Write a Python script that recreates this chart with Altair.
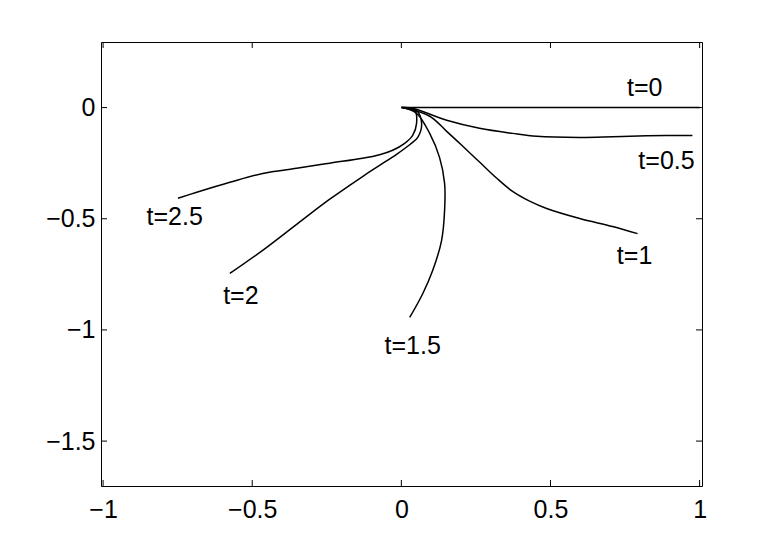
import altair as alt
import pandas as pd

# --- curve data ---
t0_x = [0.0, 1.0]
t0_y = [0.0, 0.0]

t05_x = [0.004, 0.038, 0.152, 0.262, 0.373, 0.454, 0.598, 0.708, 0.822, 0.976]
t05_y = [0.0, -0.003, -0.057, -0.093, -0.116, -0.129, -0.134, -0.131, -0.127, -0.125]

t1_x = [0.004, 0.095, 0.152, 0.206, 0.263, 0.320, 0.373, 0.430, 0.487, 0.598, 0.708, 0.792]
t1_y = [0.0, -0.039, -0.107, -0.174, -0.246, -0.318, -0.377, -0.421, -0.454, -0.499, -0.535, -0.567]

t15_x = [0.004, 0.051, 0.095, 0.128, 0.145, 0.145, 0.135, 0.105, 0.072, 0.028]
t15_y = [0.0, -0.026, -0.116, -0.224, -0.341, -0.462, -0.597, -0.733, -0.836, -0.944]

t2_x = [0.0, 0.051, 0.068, 0.055, 0.029, -0.016, -0.073, -0.130, -0.240, -0.351, -0.465, -0.575]
t2_y = [0.0, -0.013, -0.071, -0.134, -0.166, -0.210, -0.260, -0.310, -0.412, -0.525, -0.642, -0.746]

t25_x = [0.0, 0.045, 0.051, 0.038, 0.011, -0.029, -0.073, -0.130, -0.240, -0.351, -0.465, -0.575, -0.686, -0.749]
t25_y = [0.0, -0.013, -0.071, -0.125, -0.161, -0.192, -0.212, -0.228, -0.250, -0.273, -0.296, -0.336, -0.381, -0.408]

# --- annotation labels ---
label_text = ["t=0", "t=0.5", "t=1", "t=1.5", "t=2", "t=2.5"]
label_x = [0.816, 0.889, 0.782, 0.038, -0.538, -0.760]
label_y = [0.087, -0.242, -0.669, -1.073, -0.849, -0.494]

# --- axes ---
x_ticks = [-1, -0.5, 0, 0.5, 1]
y_ticks = [-1.5, -1, -0.5, 0]
x_domain = [-1.007, 1.008]
y_domain = [-1.702, 0.295]

W, H = 601, 444
TICK = 6
FONT = "Liberation Sans"

series = [("t=0", t0_x, t0_y), ("t=0.5", t05_x, t05_y), ("t=1", t1_x, t1_y),
          ("t=1.5", t15_x, t15_y), ("t=2", t2_x, t2_y), ("t=2.5", t25_x, t25_y)]
rows = []
for name, xs, ys in series:
    for i, (xv, yv) in enumerate(zip(xs, ys)):
        rows.append({"series": name, "i": i, "x": xv, "y": yv})
curves = pd.DataFrame(rows)
labels = pd.DataFrame({"text": label_text, "x": label_x, "y": label_y})
xt = pd.DataFrame({"v": x_ticks})
yt = pd.DataFrame({"v": y_ticks})

xscale = alt.Scale(domain=x_domain, nice=False, zero=False)
yscale = alt.Scale(domain=y_domain, nice=False, zero=False)

xaxis = alt.Axis(values=x_ticks, format="~g", ticks=False, tickSize=0, domain=False, grid=False,
                 labelFont=FONT, labelFontSize=25, labelColor="black", labelPadding=11, title=None)
yaxis = alt.Axis(values=y_ticks, format="~g", ticks=False, tickSize=0, domain=False, grid=False,
                 labelFont=FONT, labelFontSize=25, labelColor="black", labelPadding=6, title=None)

lines = alt.Chart(curves).mark_line(color="black", strokeWidth=1.5, interpolate="catmull-rom").encode(
    x=alt.X("x:Q", scale=xscale, axis=xaxis),
    y=alt.Y("y:Q", scale=yscale, axis=yaxis),
    detail="series:N",
    order="i:Q",
)

texts = alt.Chart(labels).mark_text(font=FONT, fontSize=25, color="black",
                                     align="center", baseline="middle").encode(
    x=alt.X("x:Q", scale=xscale),
    y=alt.Y("y:Q", scale=yscale),
    text="text:N",
)

bottom_ticks = alt.Chart(xt).mark_rule(color="black", strokeWidth=1).encode(
    x=alt.X("v:Q", scale=xscale), y=alt.value(H), y2=alt.value(H - TICK))
top_ticks = alt.Chart(xt).mark_rule(color="black", strokeWidth=1).encode(
    x=alt.X("v:Q", scale=xscale), y=alt.value(0), y2=alt.value(TICK))
left_ticks = alt.Chart(yt).mark_rule(color="black", strokeWidth=1).encode(
    y=alt.Y("v:Q", scale=yscale), x=alt.value(0), x2=alt.value(TICK))
right_ticks = alt.Chart(yt).mark_rule(color="black", strokeWidth=1).encode(
    y=alt.Y("v:Q", scale=yscale), x=alt.value(W - TICK), x2=alt.value(W))

chart = alt.layer(lines, texts, bottom_ticks, top_ticks, left_ticks, right_ticks).properties(
    width=W, height=H,
    autosize=alt.AutoSizeParams(type="none"),
    padding={"left": 93, "top": 34, "right": 60, "bottom": 50},
    background="white",
).configure_view(stroke="black", strokeWidth=1)

chart.save("out.html", embed_options={"renderer": "svg", "actions": False})
